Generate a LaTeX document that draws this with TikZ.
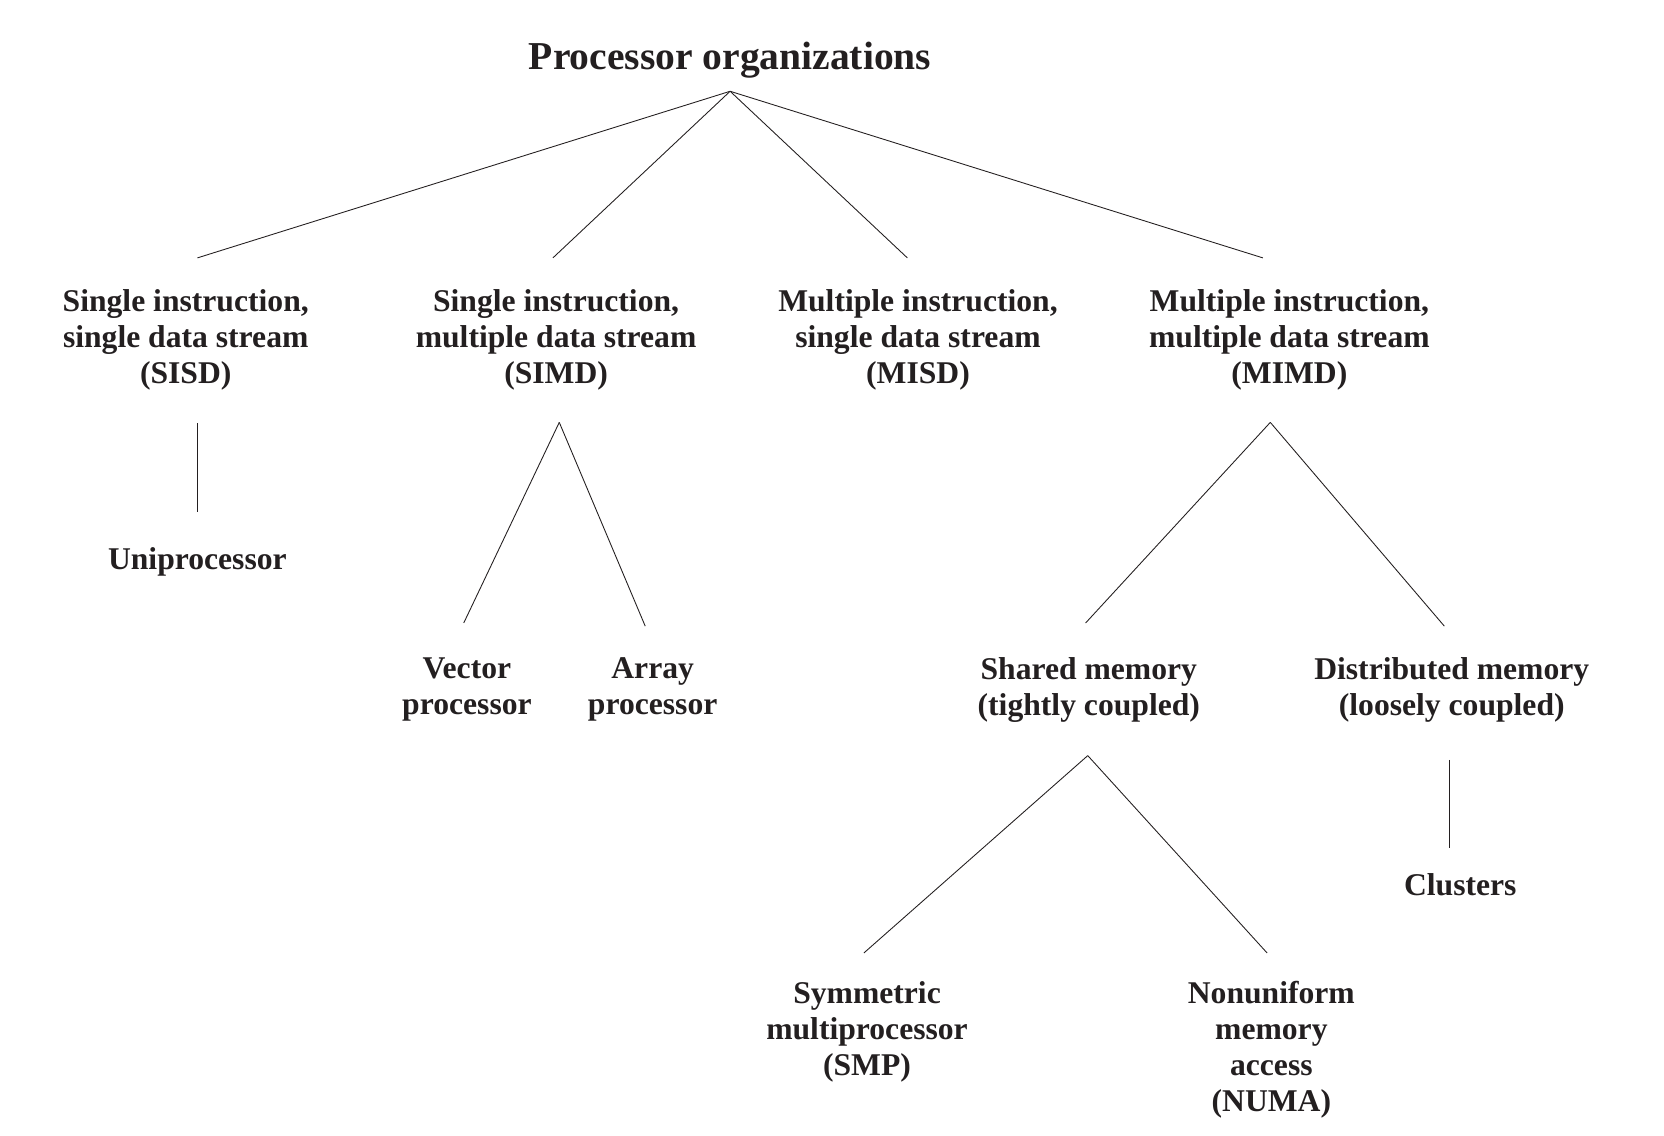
\documentclass[tikz,border=0pt]{standalone}
\usepackage{fontspec}
\setmainfont{Liberation Serif}
\definecolor{ink}{HTML}{231F20}
\tikzset{
	lbl/.style={align=center, text=ink, inner sep=0pt, font=\fontsize{18}{20.5}\selectfont\bfseries},
	ttl/.style={text=ink, inner sep=0pt, font=\fontsize{22.5}{26}\selectfont\bfseries},
	lnk/.style={draw=ink, line width=0.5pt}
}
\begin{document}
\begin{tikzpicture}[x=0.021224cm, y=-0.021224cm]
		\useasboundingbox (0,0) rectangle (1568,1070);
		\node[ttl] (porg) at (688,57) {Processor organizations};
		\node[lbl] (sisd) at (175,320) {Single instruction,\\single data stream\\(SISD)};
		\node[lbl] (simd) at (524,320) {Single instruction,\\multiple data stream\\(SIMD)};
		\node[lbl] (misd) at (865,320) {Multiple instruction,\\single data stream\\(MISD)};
		\node[lbl] (mimd) at (1215,320) {Multiple instruction,\\multiple data stream\\(MIMD)};
		\node[lbl] (unip) at (186,529) {Uniprocessor};
		\node[lbl] (vect) at (440,650) {Vector\\processor};
		\node[lbl] (arry) at (615,650) {Array\\processor};
		\node[lbl] (shmem) at (1026,650) {Shared memory\\(tightly coupled)};
		\node[lbl] (dimem) at (1368,650) {Distributed memory\\(loosely coupled)};
		\node[lbl] (clus) at (1376,834) {Clusters};
		\node[lbl] (smp) at (817,972) {Symmetric\\multiprocessor\\(SMP)};
		\node[lbl] (numa) at (1198,989) {Nonuniform\\memory\\access\\(NUMA)};
	
		\coordinate (porgout) at (688,86);
		\coordinate (sisdin) at (186,243);
		\coordinate (simdin) at (521,243);
		\coordinate (misdin) at (855,243);
		\coordinate (mimdin) at (1190,243);
		\coordinate (sisdout) at (186,399);
		\coordinate (unipin) at (186,482);
		\coordinate (simdout) at (527,398);
		\coordinate (vectin) at (437,587);
		\coordinate (arryin) at (608,590);
		\coordinate (mimdout) at (1197,398);
		\coordinate (shmemin) at (1023,587);
		\coordinate (dimemin) at (1361,590);
		\coordinate (shmemout) at (1025,712);
		\coordinate (smpin) at (814,898);
		\coordinate (numain) at (1194,898);
		\coordinate (dimemout) at (1366,716);
		\coordinate (clusin) at (1366,799);
	
		\draw[lnk] (porgout) -- (sisdin);
		\draw[lnk] (porgout) -- (simdin);
		\draw[lnk] (porgout) -- (misdin);
		\draw[lnk] (porgout) -- (mimdin);
	
		\draw[lnk] (sisdout) -- (unipin);
		\draw[lnk] (simdout) -- (vectin);
		\draw[lnk] (simdout) -- (arryin);
		\draw[lnk] (mimdout) -- (shmemin);
		\draw[lnk] (mimdout) -- (dimemin);
	
		\draw[lnk] (shmemout) -- (smpin);
		\draw[lnk] (shmemout) -- (numain);
		\draw[lnk] (dimemout) -- (clusin);
	\end{tikzpicture}
\end{document}
